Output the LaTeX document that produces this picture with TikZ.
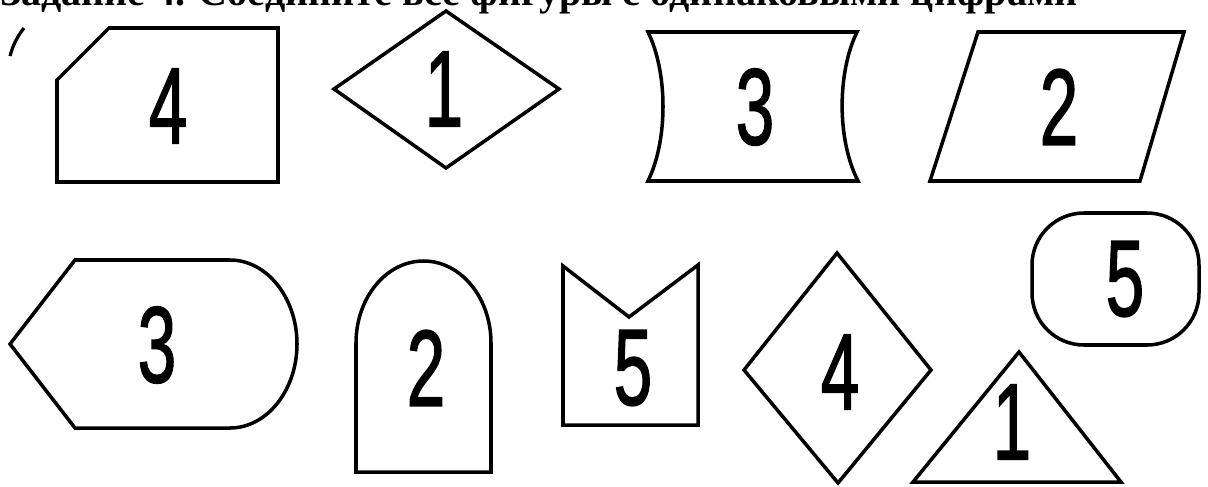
\documentclass[tikz,border=0pt]{standalone}
\usepackage{fontspec}
\newfontfamily\digitfont[FakeBold=1.6]{Liberation Sans}
\newfontfamily\headfont{Liberation Serif}

\begin{document}
\begin{tikzpicture}[
  x=0.05cm, y=-0.05cm,
  fig/.style={draw, line width=5pt, line join=miter},
  num/.style={inner sep=0pt, xscale=0.64, transform shape, font=\digitfont\fontsize{154}{160}\selectfont},
  head/.style={inner sep=0pt, anchor=base west, font=\headfont\bfseries\fontsize{57}{60}\selectfont}]
\useasboundingbox (0,0) rectangle (1208,486);
\clip (0,0) rectangle (1208,486);
\fill[white] (0,0) rectangle (1208,486);

% heading, cut off at the top
\node[head] (title) at (0,5) {Задание 4. Соедините все фигуры с одинаковыми цифрами};
\draw[line width=4.6pt] (10,56) .. controls (13,45) and (17,37) .. (24,28);

% top row
\draw[fig] (57,80) -- (109,28) -- (278,28) -- (278,182) -- (57,182) -- cycle;
\node[num] (top4) at (168,106) {4};

\draw[fig] (334,89) -- (446,11) -- (559,89) -- (446,168) -- cycle;
\node[num] (top1) at (444,89) {1};

\draw[fig] (648,32) -- (857,32) .. controls (837,73) and (837,140) .. (858,181)
  -- (648,181) .. controls (668,140) and (668,73) .. (648,32) -- cycle;
\node[num] (top3) at (755,107) {3};

\draw[fig] (978,32) -- (1184,32) -- (1140,181) -- (930,181) -- cycle;
\node[num] (top2) at (1059,107) {2};

% bottom row
\draw[fig] (10,344) -- (75,260) -- (230,260) .. controls (267,260) and (297,298) .. (297,344)
  .. controls (297,390) and (267,428) .. (230,428) -- (75,428) -- cycle;
\node[num] (bot3) at (157,345) {3};

\draw[fig] (356,472) -- (356,343) .. controls (356,298) and (386,261) .. (423.5,261)
  .. controls (461,261) and (491,298) .. (491,343) -- (491,472) -- cycle;
\node[num] (bot2) at (426,368) {2};

\draw[fig] (563,266) -- (629,317) -- (698,265) -- (698,425) -- (563,425) -- cycle;
\node[num] (bot5) at (633,368) {5};

\draw[fig] (837,253) -- (931,370) -- (838,483) -- (744,370) -- cycle;
\node[num] (bot4) at (840,372) {4};

\draw[fig] (1019,352) -- (1121,482) -- (913,482) -- cycle;
\node[num] (bot1) at (1012,422) {1};

\draw[fig, rounded corners=2.6cm] (1032,213) rectangle (1199,345);
\node[num] (bot5b) at (1125,279) {5};
\end{tikzpicture}
\end{document}
